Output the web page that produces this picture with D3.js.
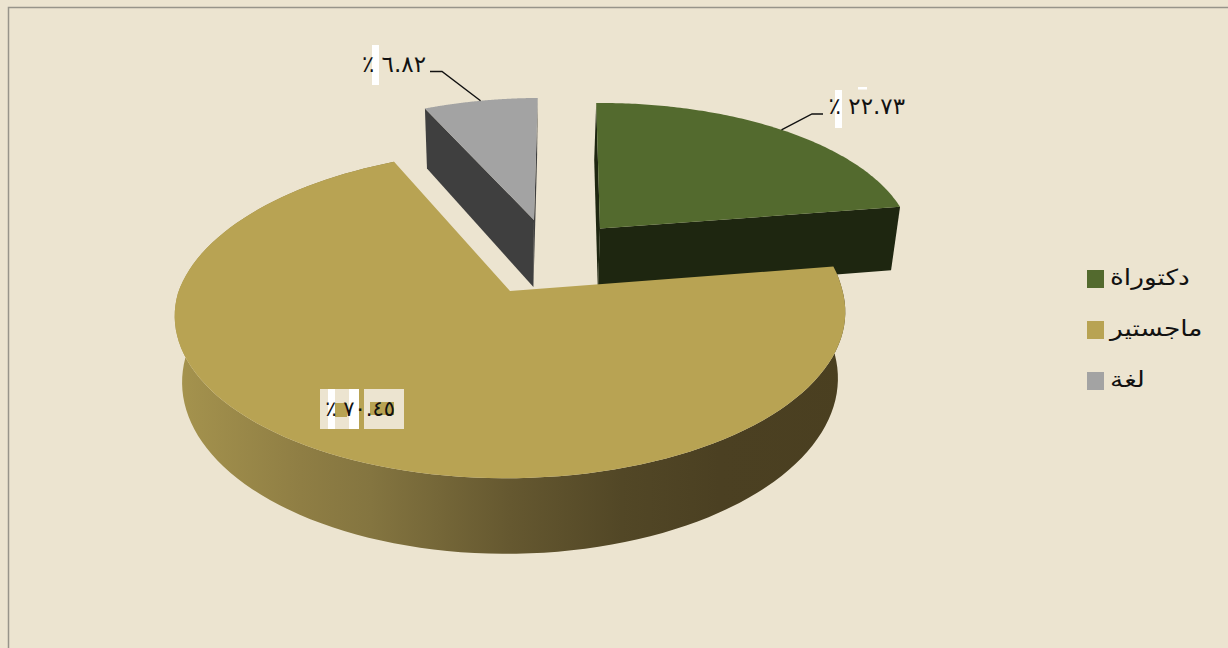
<!DOCTYPE html>
<html><head><meta charset="utf-8">
<script src="https://cdn.jsdelivr.net/npm/d3@7"></script>
<style>html,body{margin:0;padding:0;background:#ece4d0;overflow:hidden}svg{display:block}
text{font-family:"DejaVu Sans","Noto Sans",sans-serif;fill:#111}
.lbl{direction:ltr;unicode-bidi:bidi-override}</style></head><body>
<svg id="c" width="1228" height="648"></svg>
<script>
const categories = ["دكتوراة","ماجستير","لغة"];
const values = [22.73,70.45,6.82];
const valueLabels = ["٪ ٢٢.٧٣","٪ ٧٠.٤٥","٪ ٦.٨٢"];
const topColors = ["#536a2e","#b8a353","#a3a3a3"];
const wallColors = ["#1e2610","#b8a353","#3f3f3f"];
// exploded offset (disc units), radius factor and wall factor of each slice
const offsetU = [0.2767,0,0.0657];
const offsetV = [-0.407,0,-0.47];
const radiusK = [0.985,1,0.97];
const depthK = [1.05,1,1.1];

const svg = d3.select("#c");
const W=1228,H=648;
svg.append("rect").attr("width",W).attr("height",H).attr("fill","#ece4d0");
svg.append("path").attr("d",d3.line()([[8.5,H],[8.5,7.5],[W,7.5]])).attr("fill","none").attr("stroke","#97948a").attr("stroke-width",1.5);

// perspective projection of the pie disc
const xS=d3.scaleLinear().domain([0,1]).range([510,842]);
const yS=d3.scaleLinear().domain([0,1]).range([291,452]);
const K=0.14, SHEAR=-8, ROLL=-2, DEPTH=65, TAPER=0.022;
function project(u,v,z){
  const w=1-K*v;
  let x=xS((u+SHEAR*Math.min(v,0)/332)/w), y=yS((v+ROLL*u/161)/w)+DEPTH*z/w;
  x=xS(0)+(x-xS(0))*(1-TAPER*z);
  return [x,y];
}
const pie=d3.pie().sort(null).value(d=>d);
const arcs=pie(values);
const disc=(i,a,r)=>[offsetU[i]+r*radiusK[i]*Math.sin(a),offsetV[i]-r*radiusK[i]*Math.cos(a)];
const line=d3.line();
const steps=a=>d3.range(0,121).map(t=>a.startAngle+(a.endAngle-a.startAngle)*t/120);
function topPath(i){
  const a=arcs[i];
  const pts=[project(...disc(i,0,0),0)].concat(steps(a).map(t=>project(...disc(i,t,1),0)));
  return line(pts)+"Z";
}
function radialWall(i,ang){
  const o=disc(i,0,0),e=disc(i,ang,1),z=depthK[i];
  return line([project(o[0],o[1],0),project(e[0],e[1],0),project(e[0],e[1],z),project(o[0],o[1],z)])+"Z";
}
// gradient for the big outer wall
const wallStops=[[0,"#a8964f"],[0.2,"#8f7e44"],[0.3,"#847540"],[0.5,"#655830"],[0.66,"#524726"],[0.8,"#4b4022"],[1,"#4a3f20"]];
const defs=svg.append("defs");
const g=defs.append("linearGradient").attr("id","wall").attr("gradientUnits","userSpaceOnUse")
 .attr("x1",project(-1.03,0.14,0)[0]).attr("x2",project(1.03,0.14,0)[0]).attr("y1",0).attr("y2",0);
wallStops.forEach(s=>g.append("stop").attr("offset",s[0]).attr("stop-color",s[1]));

const marks=svg.append("g");
// language slice
marks.append("path").attr("d",radialWall(2,arcs[2].startAngle)).attr("fill",wallColors[2]);
marks.append("path").attr("d",radialWall(2,arcs[2].endAngle)).attr("fill",wallColors[2]);
marks.append("path").attr("d",topPath(2)).attr("fill",topColors[2]);
// doctorate slice
marks.append("path").attr("d",radialWall(0,arcs[0].startAngle)).attr("fill",wallColors[0]);
marks.append("path").attr("d",radialWall(0,arcs[0].endAngle)).attr("fill",wallColors[0]);
marks.append("path").attr("d",topPath(0)).attr("fill",topColors[0]);
// master slice: outer wall then top
const a1=arcs[1];
const outerTop=steps(a1).map(t=>project(...disc(1,t,1),0));
const outerBot=steps(a1).map(t=>project(...disc(1,t,1),1)).reverse();
marks.append("path").attr("d",line(outerTop.concat(outerBot))+"Z").attr("fill","url(#wall)");
marks.append("path").attr("d",topPath(1)).attr("fill",topColors[1]);

// leader lines ending on slice rims
function leader(i,pts){
  const a=arcs[i],e=project(...disc(i,(a.startAngle+a.endAngle)/2,1),0);
  svg.append("path").attr("d",line(pts.concat([e]))).attr("fill","none").attr("stroke","#111").attr("stroke-width",1.4);
}
leader(2,[[430,71.5],[442,71.5]]);
leader(0,[[823,114],[812,114]]);

// label backing artefacts
const patches=[[372,45,7,40,"#fff"],[835,90,7,38,"#fff"],[858,87,9,2.5,"#fff"],
 [320,389,84,40,"#ece4d0"],[359,389,5,40,"#b8a353"],[328,389,7,40,"#fff"],[349,389,10,40,"#fff"],
 [335,403,12,14,"#b8a353"],[370,402,24,13,"#b8a353"]];
svg.append("g").selectAll("rect").data(patches).join("rect")
 .attr("x",d=>d[0]).attr("y",d=>d[1]).attr("width",d=>d[2]).attr("height",d=>d[3]).attr("fill",d=>d[4]);

const labelPos=[[905,114],[395,416],[426,72]];
svg.append("g").selectAll("text").data(valueLabels).join("text").attr("class","lbl")
 .attr("x",(d,i)=>labelPos[i][0]).attr("y",(d,i)=>labelPos[i][1]).attr("text-anchor","end")
 .attr("font-size",(d,i)=>i==1?21:23).text(d=>d);

// legend
const ly=d3.scalePoint().domain(categories).range([279,381]);
const lg=svg.append("g").selectAll("g").data(categories).join("g").attr("transform",d=>`translate(1087,${ly(d)})`);
lg.append("rect").attr("x",0).attr("y",-9).attr("width",17).attr("height",18).attr("fill",(d,i)=>topColors[i]);
lg.append("text").attr("transform","translate(23,6) scale(1.2,1)").attr("font-size",22).attr("direction","ltr").text(d=>d);
</script></body></html>
